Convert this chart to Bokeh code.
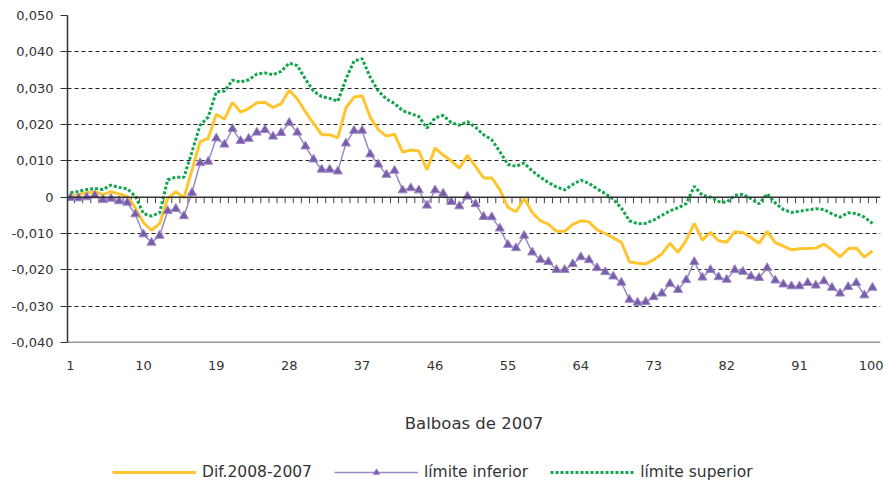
from bokeh.plotting import figure
from bokeh.layouts import column
from bokeh.models import (Range1d, FixedTicker, Span, Legend, LegendItem,
                          CustomJSTickFormatter, ColumnDataSource)
from bokeh.embed import file_html
from bokeh.resources import INLINE

# ---------------- data ----------------
categories = list(range(1, 101))

dif = [0.0002, 0.0007, 0.0012, 0.0015, 0.0007, 0.0015, 0.0009, 0.0002, -0.0029, -0.0070,
       -0.0091, -0.0073, -0.0004, 0.0015, -0.0002, 0.0075, 0.0153, 0.0162, 0.0228, 0.0215,
       0.0261, 0.0234, 0.0244, 0.0260, 0.0261, 0.0247, 0.0257, 0.0294, 0.0270, 0.0235,
       0.0203, 0.0172, 0.0172, 0.0163, 0.0246, 0.0275, 0.0279, 0.0220, 0.0186, 0.0168,
       0.0173, 0.0124, 0.0130, 0.0127, 0.0075, 0.0135, 0.0116, 0.0100, 0.0080, 0.0115,
       0.0085, 0.0053, 0.0053, 0.0021, -0.0028, -0.0040, -0.0003, -0.0042, -0.0065, -0.0074,
       -0.0094, -0.0094, -0.0075, -0.0065, -0.0068, -0.0090, -0.0100, -0.0112, -0.0124, -0.0178,
       -0.0182, -0.0184, -0.0172, -0.0156, -0.0127, -0.0152, -0.0119, -0.0072, -0.0118, -0.0097,
       -0.0120, -0.0124, -0.0095, -0.0097, -0.0111, -0.0127, -0.0094, -0.0125, -0.0135, -0.0145,
       -0.0142, -0.0141, -0.0140, -0.0129, -0.0145, -0.0164, -0.0142, -0.0140, -0.0165, -0.0148]

lower = [-0.0002, -0.0003, 0.0000, 0.0005, -0.0007, -0.0004, -0.0011, -0.0015, -0.0047, -0.0102,
         -0.0125, -0.0106, -0.0038, -0.0032, -0.0052, 0.0012, 0.0094, 0.0098, 0.0162, 0.0145,
         0.0188, 0.0155, 0.0161, 0.0178, 0.0185, 0.0167, 0.0177, 0.0205, 0.0178, 0.0140,
         0.0104, 0.0076, 0.0076, 0.0071, 0.0148, 0.0183, 0.0183, 0.0118, 0.0090, 0.0062,
         0.0073, 0.0019, 0.0025, 0.0019, -0.0023, 0.0019, 0.0010, -0.0013, -0.0025, 0.0002,
         -0.0019, -0.0054, -0.0055, -0.0086, -0.0131, -0.0140, -0.0106, -0.0152, -0.0172, -0.0178,
         -0.0200, -0.0200, -0.0184, -0.0165, -0.0173, -0.0195, -0.0206, -0.0218, -0.0235, -0.0282,
         -0.0290, -0.0288, -0.0275, -0.0265, -0.0238, -0.0255, -0.0228, -0.0178, -0.0221, -0.0200,
         -0.0220, -0.0227, -0.0200, -0.0205, -0.0218, -0.0222, -0.0195, -0.0229, -0.0240, -0.0245,
         -0.0245, -0.0236, -0.0243, -0.0231, -0.0249, -0.0265, -0.0247, -0.0236, -0.0270, -0.0249]

upper = [0.0012, 0.0016, 0.0021, 0.0024, 0.0021, 0.0033, 0.0027, 0.0023, 0.0003, -0.0045,
         -0.0052, -0.0043, 0.0048, 0.0055, 0.0055, 0.0125, 0.0198, 0.0221, 0.0290, 0.0292,
         0.0322, 0.0317, 0.0323, 0.0339, 0.0342, 0.0337, 0.0346, 0.0369, 0.0362, 0.0325,
         0.0292, 0.0277, 0.0272, 0.0264, 0.0325, 0.0375, 0.0381, 0.0330, 0.0292, 0.0270,
         0.0258, 0.0238, 0.0230, 0.0222, 0.0190, 0.0218, 0.0225, 0.0205, 0.0198, 0.0208,
         0.0192, 0.0172, 0.0158, 0.0125, 0.0090, 0.0085, 0.0094, 0.0072, 0.0055, 0.0040,
         0.0028, 0.0020, 0.0035, 0.0047, 0.0038, 0.0023, 0.0010, -0.0005, -0.0030, -0.0065,
         -0.0073, -0.0072, -0.0063, -0.0050, -0.0038, -0.0029, -0.0018, 0.0030, 0.0005, 0.0000,
         -0.0012, -0.0014, 0.0005, 0.0008, -0.0004, -0.0018, 0.0009, -0.0016, -0.0034, -0.0042,
         -0.0039, -0.0035, -0.0032, -0.0034, -0.0046, -0.0055, -0.0043, -0.0045, -0.0055, -0.0072]

x_tick_values = [1, 10, 19, 28, 37, 46, 55, 64, 73, 82, 91, 100]
y_tick_values = [-0.04, -0.03, -0.02, -0.01, 0.0, 0.01, 0.02, 0.03, 0.04, 0.05]
y_grid_values = [-0.03, -0.02, -0.01, 0.01, 0.02, 0.03, 0.04, 0.05]
series_labels = ["Dif.2008-2007", "límite inferior", "límite superior"]
x_title = "Balboas de 2007"

# ---------------- styling ----------------
FONT = "DejaVu Sans"
TXT = "#333333"
YELLOW = "#FFC52F"
PURPLE_LINE = "#9A88C6"
PURPLE_MARK = "#7A5BA8"
GREEN = "#12A64C"

LEGEND_H = 40

p = figure(width=883, height=482 - LEGEND_H, output_backend="svg", toolbar_location=None,
           x_range=Range1d(0.63, 100.99), y_range=Range1d(-0.040, 0.050),
           min_border_left=67, min_border_right=3, min_border_top=15,
           min_border_bottom=100)
p.outline_line_color = None
p.background_fill_color = "white"
p.border_fill_color = "white"

# grid
p.xgrid.grid_line_color = None
p.ygrid.ticker = FixedTicker(ticks=y_grid_values)
p.ygrid.grid_line_color = "#222222"
p.ygrid.grid_line_dash = "4 3"
p.ygrid.grid_line_width = 1

# y axis
yax = p.left[0]
yax.ticker = FixedTicker(ticks=y_tick_values)
yax.formatter = CustomJSTickFormatter(
    code="if (Math.abs(tick) < 1e-9) { return '0'; } return tick.toFixed(3).replace('.', ',');")
yax.axis_line_color = "#333333"
yax.axis_line_width = 1.5
yax.major_tick_line_color = "#333333"
yax.major_tick_out = 7
yax.major_tick_in = 0
yax.minor_tick_line_color = None
yax.major_label_standoff = 7
yax.major_label_text_font = FONT
yax.major_label_text_font_size = "13px"
yax.major_label_text_color = TXT

# x axis (labels only)
xax = p.below[0]
xax.ticker = FixedTicker(ticks=x_tick_values)
xax.axis_line_color = None
xax.major_tick_line_color = None
xax.minor_tick_line_color = None
xax.major_tick_out = 0
xax.major_tick_in = 0
xax.major_label_standoff = 18
xax.major_label_text_font = FONT
xax.major_label_text_font_size = "13px"
xax.major_label_text_color = TXT
xax.axis_label = x_title
xax.axis_label_standoff = 41
xax.axis_label_text_font = FONT
xax.axis_label_text_font_size = "16.5px"
xax.axis_label_text_font_style = "normal"
xax.axis_label_text_color = TXT

# zero line and bottom border
p.add_layout(Span(location=0, dimension="width", line_color="#333333", line_width=1.5))
p.add_layout(Span(location=y_tick_values[0], dimension="width", line_color="#333333", line_width=1.5))

# small category ticks hanging below the zero line
tick_len = 0.09 / 327 * 6
tick_x = [c + 0.5 for c in categories]
p.segment(x0=tick_x, y0=[0] * len(tick_x), x1=tick_x, y1=[-tick_len] * len(tick_x),
          line_color="#444444", line_width=1)

src = ColumnDataSource(dict(x=categories, dif=dif, lower=lower, upper=upper))

p.line("x", "dif", source=src, line_color=YELLOW, line_width=3)
p.line("x", "lower", source=src, line_color=PURPLE_LINE, line_width=1.5)
p.scatter("x", "lower", source=src, marker="triangle", size=9,
          fill_color=PURPLE_MARK, line_color=PURPLE_LINE, line_width=1)
p.line("x", "upper", source=src, line_color=GREEN, line_width=3, line_dash="3 2")

# ---------------- legend strip (separate figure below the chart) ----------------
# same series, drawn outside this strip's visible range so only the legend shows
leg = figure(width=883, height=LEGEND_H, output_backend="svg", toolbar_location=None,
             x_range=Range1d(-20, -10), y_range=Range1d(0, 1), min_border=0,
             x_axis_location=None, y_axis_location=None)
leg.grid.visible = False
leg.outline_line_color = None
leg.background_fill_color = "white"
leg.border_fill_color = "white"
lsrc = ColumnDataSource(dict(x=categories, dif=dif, lower=lower, upper=upper))
l_dif = leg.line("x", "dif", source=lsrc, line_color=YELLOW, line_width=3)
l_low = leg.line("x", "lower", source=lsrc, line_color=PURPLE_LINE, line_width=1.5)
l_low_m = leg.scatter("x", "lower", source=lsrc, marker="triangle", size=9,
                      fill_color=PURPLE_MARK, line_color=PURPLE_LINE, line_width=1)
l_up = leg.line("x", "upper", source=lsrc, line_color=GREEN, line_width=3, line_dash="3 2")

legend = Legend(items=[
    LegendItem(label=series_labels[0], renderers=[l_dif]),
    LegendItem(label=series_labels[1], renderers=[l_low, l_low_m]),
    LegendItem(label=series_labels[2], renderers=[l_up]),
], orientation="horizontal", location=(45, 1))
legend.glyph_width = 84
legend.glyph_height = 16
legend.label_standoff = 6
legend.spacing = 22
legend.padding = 3
legend.margin = 0
legend.border_line_color = None
legend.background_fill_alpha = 0
legend.label_text_font = FONT
legend.label_text_font_size = "15.5px"
legend.label_text_color = TXT
leg.add_layout(legend)

layout = column(p, leg, spacing=0)
open("out.html", "w").write(file_html(layout, INLINE))
